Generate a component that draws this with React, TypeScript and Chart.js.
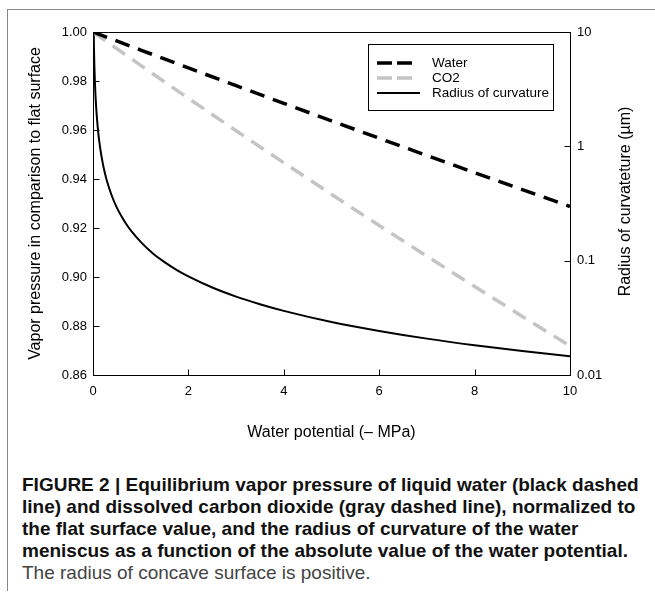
import React, { useEffect, useRef } from "react";
import { Chart, registerables } from "chart.js";

Chart.register(...registerables);

// ---- Data ----
const potentialX = [0, 1, 2, 3, 4, 5, 6, 7, 8, 9, 10];
const waterVapor = [1.0, 0.99264, 0.98533, 0.97808, 0.97088, 0.96373, 0.95663, 0.94959, 0.9426, 0.93566, 0.92877];
const co2Vapor = [1.0, 0.98638, 0.97295, 0.9597, 0.94663, 0.93374, 0.92102, 0.90848, 0.8961, 0.8839, 0.87186];

const radiusX = [0.0146, 0.02, 0.025, 0.03, 0.04, 0.05, 0.06, 0.075, 0.1, 0.125, 0.15, 0.2, 0.25, 0.3, 0.4, 0.5, 0.6, 0.7, 0.8, 1, 1.25, 1.5, 1.75, 2, 2.5, 3, 3.5, 4, 5, 6, 7, 8, 9, 10];
const radiusValues = [10, 7.28, 5.82, 4.85, 3.64, 2.91, 2.43, 1.94, 1.46, 1.16, 0.971, 0.728, 0.582, 0.485, 0.364, 0.291, 0.243, 0.208, 0.182, 0.146, 0.116, 0.0971, 0.0832, 0.0728, 0.0582, 0.0485, 0.0416, 0.0364, 0.0291, 0.0243, 0.0208, 0.0182, 0.0162, 0.0146];

const xTicks = [0, 2, 4, 6, 8, 10];
const leftTicks = [0.86, 0.88, 0.9, 0.92, 0.94, 0.96, 0.98, 1.0];
const rightTicks = [0.01, 0.1, 1, 10];

const seriesNames = ["Water", "CO2", "Radius of curvature"];
const xTitle = "Water potential (\u2013 MPa)";
const leftTitle = "Vapor pressure in comparison to flat surface";
const rightTitle = "Radius of curvateture (\u00b5m)";

const FONT = '"Liberation Sans", Arial, Helvetica, sans-serif';

const decorPlugin = {
  id: "decor",
  afterDraw(chart: any) {
    const { ctx, chartArea } = chart;
    const { left, right, top, bottom } = chartArea;
    const L = Math.round(left) + 0.5;
    const R = Math.round(right) + 0.5;
    const T = Math.round(top) + 0.5;
    const B = Math.round(bottom) + 0.5;
    ctx.save();
    ctx.strokeStyle = "#000";
    ctx.lineWidth = 1;
    ctx.setLineDash([]);
    ctx.strokeRect(L, T, R - L, B - T);
    const tl = 6;
    ctx.beginPath();
    for (const v of xTicks) {
      const px = Math.round(chart.scales.x.getPixelForValue(v)) + 0.5;
      ctx.moveTo(px, B);
      ctx.lineTo(px, B - tl);
    }
    for (const v of leftTicks) {
      const py = Math.round(chart.scales.y.getPixelForValue(v)) + 0.5;
      ctx.moveTo(L, py);
      ctx.lineTo(L + tl, py);
    }
    for (const v of rightTicks) {
      const py = Math.round(chart.scales.y2.getPixelForValue(v)) + 0.5;
      ctx.moveTo(R, py);
      ctx.lineTo(R - tl, py);
    }
    ctx.stroke();

    // right axis title (reads bottom to top)
    ctx.fillStyle = "#000";
    ctx.font = `16px ${FONT}`;
    ctx.textAlign = "center";
    ctx.textBaseline = "middle";
    ctx.translate(626, (top + bottom) / 2 - 2);
    ctx.rotate(-Math.PI / 2);
    ctx.fillText(rightTitle, 0, 0);
    ctx.restore();

    // legend box
    ctx.save();
    const bx = 368.5, by = 44.5, bw = 185, bh = 66;
    ctx.fillStyle = "#fff";
    ctx.fillRect(bx, by, bw, bh);
    ctx.strokeStyle = "#000";
    ctx.lineWidth = 1;
    ctx.strokeRect(bx, by, bw, bh);
    const rows = [63, 78, 93];
    chart.data.datasets.forEach((ds: any, i: number) => {
      const y = rows[i];
      ctx.strokeStyle = ds.borderColor;
      ctx.lineWidth = ds.borderWidth;
      ctx.lineCap = "butt";
      if (ds.borderDash && ds.borderDash.length) {
        ctx.setLineDash([15, 5]);
        ctx.beginPath();
        ctx.moveTo(377, y);
        ctx.lineTo(412, y);
        ctx.stroke();
      } else {
        ctx.setLineDash([]);
        ctx.beginPath();
        ctx.moveTo(377, y);
        ctx.lineTo(420, y);
        ctx.stroke();
      }
      ctx.setLineDash([]);
      ctx.fillStyle = "#000";
      ctx.font = `13.5px ${FONT}`;
      ctx.textAlign = "left";
      ctx.textBaseline = "middle";
      ctx.fillText(ds.label, 432, y);
    });
    ctx.restore();
  },
};

export default function App() {
  const canvasRef = useRef<HTMLCanvasElement | null>(null);

  useEffect(() => {
    if (!canvasRef.current) return;
    const chart = new Chart(canvasRef.current, {
      type: "line",
      data: {
        datasets: [
          {
            label: seriesNames[0],
            data: potentialX.map((x, i) => ({ x, y: waterVapor[i] })),
            borderColor: "#000",
            borderWidth: 3.5,
            borderDash: [15, 9],
            pointRadius: 0,
            yAxisID: "y",
            fill: false,
          },
          {
            label: seriesNames[1],
            data: potentialX.map((x, i) => ({ x, y: co2Vapor[i] })),
            borderColor: "#c4c4c4",
            borderWidth: 3.5,
            borderDash: [15, 9],
            pointRadius: 0,
            yAxisID: "y",
            fill: false,
          },
          {
            label: seriesNames[2],
            data: radiusX.map((x, i) => ({ x, y: radiusValues[i] })),
            borderColor: "#000",
            borderWidth: 2,
            pointRadius: 0,
            yAxisID: "y2",
            fill: false,
            cubicInterpolationMode: "monotone",
          },
        ],
      },
      options: {
        animation: false,
        responsive: false,
        maintainAspectRatio: false,
        layout: { padding: { top: 32, left: 0, right: 0, bottom: 0 } },
        plugins: { legend: { display: false }, tooltip: { enabled: false } },
        scales: {
          x: {
            type: "linear",
            position: "bottom",
            min: 0,
            max: 10,
            grid: { display: false, drawTicks: false },
            border: { display: false },
            afterBuildTicks: (s: any) => {
              s.ticks = xTicks.map((v) => ({ value: v }));
            },
            afterFit: (s: any) => {
              s.height = 75;
            },
            ticks: {
              color: "#000",
              font: { family: FONT, size: 13 },
              padding: 9,
              maxRotation: 0,
              autoSkip: false,
            },
            title: {
              display: true,
              text: xTitle,
              color: "#000",
              font: { family: FONT, size: 16 },
              padding: { top: 0, bottom: 8 },
            },
          },
          y: {
            type: "linear",
            position: "left",
            min: 0.86,
            max: 1.0,
            grid: { display: false, drawTicks: false },
            border: { display: false },
            afterBuildTicks: (s: any) => {
              s.ticks = leftTicks.map((v) => ({ value: v }));
            },
            afterFit: (s: any) => {
              s.width = 93;
            },
            ticks: {
              color: "#000",
              font: { family: FONT, size: 13 },
              padding: 6,
              callback: (v: any) => Number(v).toFixed(2),
            },
            title: {
              display: true,
              text: leftTitle,
              color: "#000",
              font: { family: FONT, size: 16 },
              padding: { top: 26, bottom: 0 },
            },
          },
          y2: {
            type: "logarithmic",
            position: "right",
            min: 0.01,
            max: 10,
            grid: { display: false, drawTicks: false },
            border: { display: false },
            afterBuildTicks: (s: any) => {
              s.ticks = rightTicks.map((v) => ({ value: v }));
            },
            afterFit: (s: any) => {
              s.width = 85;
            },
            ticks: {
              color: "#000",
              font: { family: FONT, size: 13 },
              padding: 7,
              callback: (v: any) => String(v),
            },
          },
        },
      },
      plugins: [decorPlugin],
    } as any);
    return () => chart.destroy();
  }, []);

  const captionBold: React.CSSProperties = { fontWeight: 700, color: "#111" };

  return (
    <div style={{ position: "fixed", left: 0, top: 0, width: 655, height: 598, background: "#fff", overflow: "hidden" }}>
      <div style={{ position: "absolute", left: 7, top: 9, width: 648, height: 581, borderLeft: "1px solid #888", borderTop: "1px solid #888" }} />
      <canvas ref={canvasRef} width={655} height={450} style={{ position: "absolute", left: 0, top: 0, width: 655, height: 450 }} />
      <div
        style={{
          position: "absolute",
          left: 22,
          top: 474,
          fontFamily: FONT,
          fontSize: 19,
          lineHeight: "22px",
          whiteSpace: "nowrap",
        }}
      >
        <div style={captionBold}>FIGURE 2 | Equilibrium vapor pressure of liquid water (black dashed</div>
        <div style={captionBold}>line) and dissolved carbon dioxide (gray dashed line), normalized to</div>
        <div style={captionBold}>the flat surface value, and the radius of curvature of the water</div>
        <div style={captionBold}>meniscus as a function of the absolute value of the water potential.</div>
        <div style={{ color: "#444" }}>The radius of concave surface is positive.</div>
      </div>
    </div>
  );
}
